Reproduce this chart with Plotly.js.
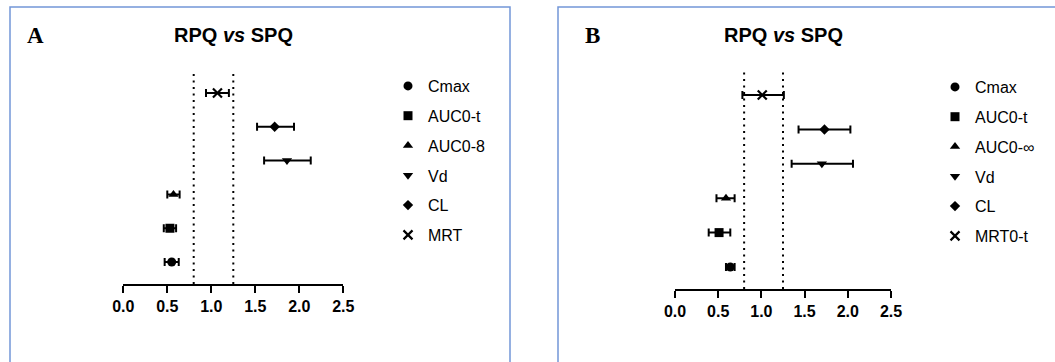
<!DOCTYPE html>
<html>
<head>
<meta charset="utf-8">
<script src="https://cdn.plot.ly/plotly-3.0.1.min.js"></script>
<style>html,body{margin:0;padding:0;background:#fff}#chart{width:1055px;height:362px}</style>
</head>
<body>
<div id="chart"></div>
<script>
// ---- data ----
const paramsA = ['Cmax', 'AUC0-t', 'AUC0-8', 'Vd', 'CL', 'MRT'];
const estA  = [0.55, 0.53, 0.57, 1.86, 1.72, 1.07];
const lowA  = [0.47, 0.46, 0.50, 1.60, 1.52, 0.94];
const highA = [0.63, 0.60, 0.64, 2.13, 1.94, 1.20];

const paramsB = ['Cmax', 'AUC0-t', 'AUC0-\u221E', 'Vd', 'CL', 'MRT0-t'];
const estB  = [0.64, 0.51, 0.59, 1.70, 1.73, 1.01];
const lowB  = [0.59, 0.39, 0.48, 1.35, 1.43, 0.78];
const highB = [0.69, 0.64, 0.69, 2.06, 2.03, 1.26];

const limits = [0.8, 1.25];
const xTicks = [0, 0.5, 1.0, 1.5, 2.0, 2.5];
const panelTitle = '<b>RPQ <i>vs</i> SPQ</b>';
const panelLabels = ['A', 'B'];

// ---- styles ----
const symbols = ['circle', 'square', 'triangle-up', 'triangle-down', 'diamond', 'x-thin'];
const sizes   = [9, 9, 9, 9, 8, 9];
const FONT = 'Liberation Sans, Arial, sans-serif';

function makeTraces(params, est, low, high, xa, ya, legendId) {
  return params.map((p, i) => ({
    type: 'scatter', mode: 'markers',
    x: [est[i]], y: [p], name: p,
    xaxis: xa, yaxis: ya, legend: legendId, legendgroup: legendId + p,
    marker: {
      symbol: symbols[i], size: sizes[i], color: '#000',
      line: {color: '#000', width: symbols[i] === 'x-thin' ? 2.2 : 0}
    },
    error_x: {
      type: 'data', symmetric: false,
      array: [high[i] - est[i]], arrayminus: [est[i] - low[i]],
      color: '#000', thickness: 2, width: 4
    },
    hoverinfo: 'x+name'
  }));
}

const traces = [
  ...makeTraces(paramsA, estA, lowA, highA, 'x', 'y', 'legend'),
  ...makeTraces(paramsB, estB, lowB, highB, 'x2', 'y2', 'legend2')
];

const W = 1055, H = 362;
const px = v => v / W;
const py = v => 1 - v / H;

function xaxis(d0, d1, anchor) {
  return {
    domain: [px(d0), px(d1)], anchor: anchor, range: [0, 2.5],
    tickvals: xTicks, tickformat: '.1f',
    showgrid: false, zeroline: false, showline: true,
    linecolor: '#000', linewidth: 2,
    ticks: 'outside', ticklen: 7, tickwidth: 2, tickcolor: '#000',
    tickfont: {family: FONT, size: 16, color: '#000', weight: 'bold'},
    fixedrange: true
  };
}
function yaxis(params, top, bottom, anchor, lo, hi) {
  return {
    domain: [py(bottom), py(top)], anchor: anchor, visible: false,
    type: 'category', categoryorder: 'array', categoryarray: params,
    range: [lo, hi], fixedrange: true
  };
}

const shapes = [];
[['x', 'y'], ['x2', 'y2']].forEach(([xa, ya]) => {
  limits.forEach(l => shapes.push({
    type: 'line', xref: xa, yref: ya + ' domain', x0: l, x1: l, y0: 0, y1: 1,
    line: {color: '#000', width: 2, dash: '2px,4.5px'}, layer: 'below'
  }));
});
// panel frames
const frameColor = '#7396D8';
shapes.push({type: 'rect', xref: 'paper', yref: 'paper', x0: px(10), x1: px(510), y0: -0.2, y1: py(7),
  line: {color: frameColor, width: 1.5}});
shapes.push({type: 'rect', xref: 'paper', yref: 'paper', x0: px(558), x1: 1.2, y0: -0.2, y1: py(7),
  line: {color: frameColor, width: 1.5}});

const labelFont = {family: 'Liberation Serif, Times New Roman, serif', size: 23, color: '#000', weight: 'bold'};
const titleFont = {family: FONT, size: 20, color: '#000'};
const ann = (text, x, y, font) => ({text, x: px(x), y: py(y), xref: 'paper', yref: 'paper',
  xanchor: 'center', yanchor: 'middle', showarrow: false, font});
const annotations = [
  ann(panelLabels[0], 35, 35, labelFont),
  ann(panelLabels[1], 592, 35, labelFont),
  ann(panelTitle, 233, 35, titleFont),
  ann(panelTitle, 783, 35, titleFont)
];

const legendCommon = {
  font: {family: FONT, size: 16, color: '#000'},
  traceorder: 'grouped', tracegroupgap: 6,
  bgcolor: 'rgba(0,0,0,0)', borderwidth: 0,
  xanchor: 'left', yanchor: 'top'
};

const layout = {
  width: W, height: H,
  margin: {l: 0, r: 0, t: 0, b: 0},
  paper_bgcolor: '#fff', plot_bgcolor: '#fff',
  showlegend: true,
  xaxis: xaxis(123.3, 343.3, 'y'),
  yaxis: yaxis(paramsA, 70, 284, 'x', -0.65, 5.68),
  xaxis2: xaxis(675, 891, 'y2'),
  yaxis2: yaxis(paramsB, 72, 289, 'x2', -0.64, 5.67),
  legend: Object.assign({x: px(388), y: py(69)}, legendCommon),
  legend2: Object.assign({x: px(935), y: py(70)}, legendCommon),
  shapes: shapes,
  annotations: annotations
};

Plotly.newPlot('chart', traces, layout, {displayModeBar: false, staticPlot: true});
</script>
</body>
</html>
